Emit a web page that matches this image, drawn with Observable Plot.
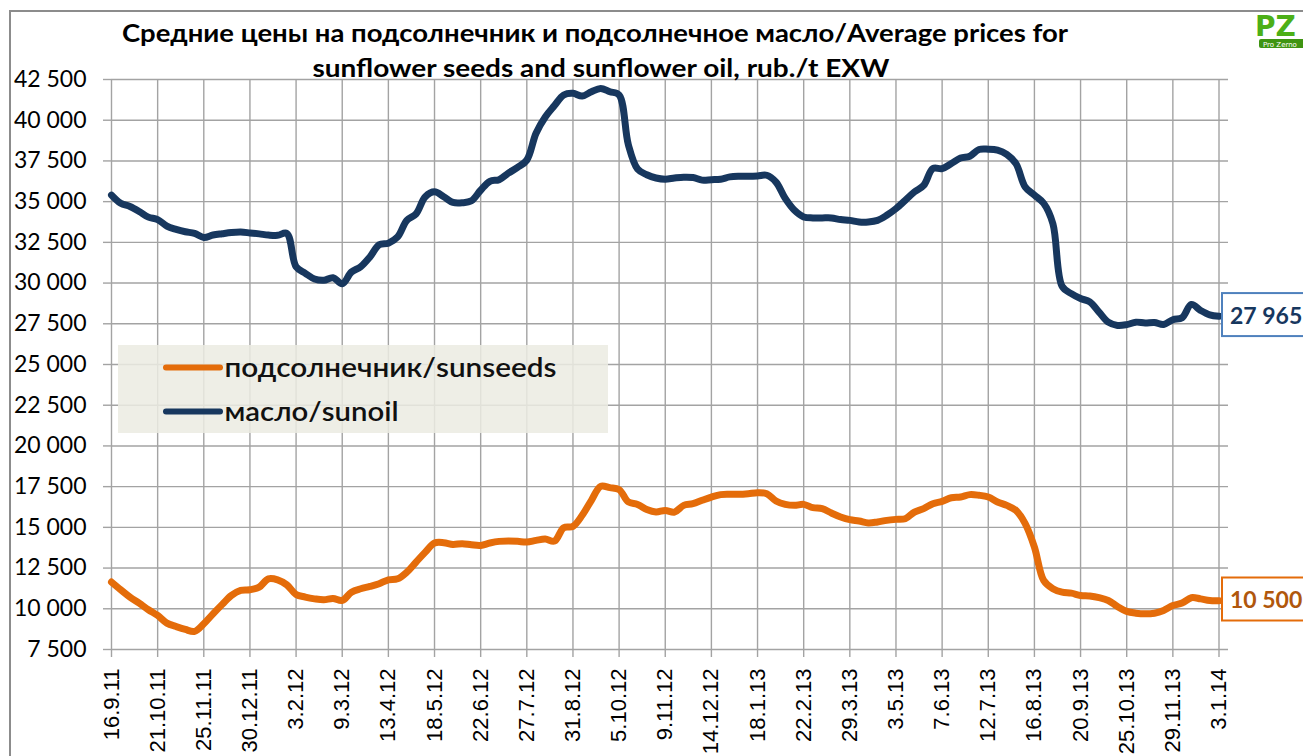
<!DOCTYPE html>
<html><head><meta charset="utf-8">
<script src="https://cdn.jsdelivr.net/npm/d3@7"></script>
<script src="https://cdn.jsdelivr.net/npm/@observablehq/plot@0.6"></script>
<style>
html,body{margin:0;padding:0;background:#fff;overflow:hidden;}
#wrap{position:relative;width:1303px;height:756px;overflow:hidden;background:#fff;}
#frame{position:absolute;left:9px;top:10px;width:1400px;height:800px;border-left:2px solid #8c8c8c;border-top:2px solid #8c8c8c;pointer-events:none;}
#overlay{position:absolute;left:0;top:0;pointer-events:none;}
</style></head><body><div id="wrap"><div id="frame"></div></div>
<script>
// ---- data ----
const titleLines = [
  "Средние цены на подсолнечник и подсолнечное масло/Average prices for",
  "sunflower seeds and sunflower oil, rub./t EXW"
];
const seriesNames = ["подсолнечник/sunseeds", "масло/sunoil"];
const seriesColors = ["#E46C0A", "#17375E"];
const labelColors = ["#B0570C", "#17375E"];
const labelBorders = ["#E46C0A", "#4F81BD"];

const xTickLabels = ["16.9.11","21.10.11","25.11.11","30.12.11","3.2.12","9.3.12","13.4.12","18.5.12",
  "22.6.12","27.7.12","31.8.12","5.10.12","9.11.12","14.12.12","18.1.13","22.2.13","29.3.13","3.5.13",
  "7.6.13","12.7.13","16.8.13","20.9.13","25.10.13","29.11.13","3.1.14"];

const yTicks = [7500,10000,12500,15000,17500,20000,22500,25000,27500,30000,32500,35000,37500,40000,42500];

// weekly prices, rub./t EXW
const seedValues = [
  11640,11170,10720,10350,9940, 9590,9120,8910,8730,8610,
  9080,9690,10270,10820,11130, 11170,11330,11840,11780,11470,
  10880,10720,10610,10550,10630, 10510,11020,11230,11370,11540,
  11780,11840,12250,12870,13480, 14040,14060,13950,14000,13930,
  13890,14040,14140,14160,14140, 14100,14200,14280,14160,14980,
  15060,15740,16660,17520,17440, 17320,16560,16410,16090,15940,
  16040,15940,16350,16450,16660, 16860,17010,17030,17030,17070,
  17130,17070,16620,16410,16350, 16410,16210,16150,15880,15640,
  15470,15390,15270,15330,15430, 15490,15530,15940,16150,16450,
  16600,16820,16860,17010,16970, 16860,16560,16350,16040,15230,
  13790,11740,11230,11020,10960, 10820,10780,10680,10510,10140,
  9840,9730,9690,9730,9900, 10200,10350,10680,10610,10510,
  10500
];
const oilValues = [
  35400,34900,34700,34400,34050, 33900,33500,33300,33150,33050,
  32800,32950,33030,33100,33130, 33080,33020,32950,32930,33050,
  31000,30600,30250,30170,30330, 29960,30680,31000,31600,32350,
  32450,32830,33850,34250,35300, 35600,35300,34950,34930,35050,
  35700,36250,36350,36750,37100, 37550,39200,40200,40900,41550,
  41650,41480,41750,41950,41750, 41550,38500,37000,36650,36450,
  36380,36450,36500,36480,36320, 36350,36380,36520,36560,36560,
  36580,36620,36200,35200,34470, 34060,34000,34000,34000,33900,
  33850,33750,33750,33850,34160, 34570,35080,35600,36000,37030,
  37030,37340,37680,37790,38200, 38220,38160,37900,37330,35900,
  35400,34900,33650,29800,29350, 29050,28850,28220,27600,27400,
  27450,27600,27550,27580,27460, 27750,27870,28690,28320,28050,
  27965
];

// ---- build table ----
const parseLabel = s => { const [d, m, y] = s.split(".").map(Number); return new Date(Date.UTC(2000 + y, m - 1, d)); };
const tickDates = xTickLabels.map(parseLabel);
const labelByTime = new Map(tickDates.map((d, i) => [+d, xTickLabels[i]]));
const start = tickDates[0];
const dates = oilValues.map((_, i) => d3.utcDay.offset(start, 7 * i));
const rows = [
  ...seedValues.map((v, i) => ({date: dates[i], value: v, series: seriesNames[0]})),
  ...oilValues.map((v, i) => ({date: dates[i], value: v, series: seriesNames[1]}))
];
const lastRows = [
  {date: dates[dates.length - 1], value: seedValues[seedValues.length - 1], series: seriesNames[0]},
  {date: dates[dates.length - 1], value: oilValues[oilValues.length - 1], series: seriesNames[1]}
];
const fmt = v => d3.format(",")(v).replace(/,/g, " ");
const gridColor = "#a3a3a3";

const chart = Plot.plot({
  width: 1303, height: 756,
  marginLeft: 111, marginRight: 75, marginTop: 79, marginBottom: 107,
  insetRight: 9.5,
  style: {background: "#fff", fontFamily: "Lato, sans-serif", overflow: "hidden"},
  x: {type: "utc", domain: [start, dates[dates.length - 1]]},
  y: {domain: [7500, 42500]},
  color: {domain: seriesNames, range: seriesColors},
  marks: [
    Plot.gridY(yTicks, {stroke: gridColor, strokeOpacity: 1, strokeWidth: 1.4}),
    Plot.gridX(tickDates, {stroke: gridColor, strokeOpacity: 1, strokeWidth: 1.4}),
    Plot.axisY(yTicks, {label: null, tickSize: 8, tickPadding: 17, tickFormat: fmt, fontSize: 23,
      fontFamily: "Lato, sans-serif", stroke: gridColor, strokeWidth: 1.4, fill: "#000"}),
    Plot.axisX(tickDates, {label: null, tickSize: 8, tickPadding: 11, tickRotate: -90, tickFormat: d => labelByTime.get(+d),
      fontSize: 22, fontFamily: "Liberation Sans, Arial, sans-serif", stroke: gridColor, strokeWidth: 1.4, fill: "#000"}),
    Plot.line(rows, {x: "date", y: "value", z: "series", stroke: "series", strokeWidth: 7,
      curve: "catmull-rom", strokeLinecap: "round", strokeLinejoin: "round"}),
    Plot.text(lastRows.filter(d => d.series === seriesNames[0]), {x: "date", y: "value", text: d => fmt(d.value),
      dx: 11, textAnchor: "start", fill: labelColors[0], fontWeight: "bold", fontSize: 23}),
    Plot.text(lastRows.filter(d => d.series === seriesNames[1]), {x: "date", y: "value", text: d => fmt(d.value),
      dx: 11, textAnchor: "start", fill: labelColors[1], fontWeight: "bold", fontSize: 23})
  ]
});
const wrap = document.getElementById("wrap");
wrap.insertBefore(chart, wrap.firstChild);

// boxes behind end labels (found by their text)
const svgRect = chart.getBoundingClientRect();
lastRows.forEach((row, k) => {
  const label = fmt(row.value);
  Array.from(chart.querySelectorAll("text")).filter(t => t.textContent === label).forEach(t => {
    const r = t.getBoundingClientRect();
    const cy = r.top - svgRect.top + r.height / 2;
    const rect = document.createElementNS("http://www.w3.org/2000/svg", "rect");
    rect.setAttribute("x", r.left - svgRect.left - 8);
    rect.setAttribute("y", cy - 21.5);
    rect.setAttribute("width", r.width + 20);
    rect.setAttribute("height", 43);
    rect.setAttribute("fill", "#fff");
    rect.setAttribute("stroke", labelBorders[k]);
    rect.setAttribute("stroke-width", 2);
    const g = t.closest("g") || chart;
    g.parentNode.insertBefore(rect, g);
  });
});

// overlay: title, legend, logo
const ov = d3.select("#wrap").append("svg").attr("id", "overlay").attr("width", 1303).attr("height", 756);
const titleX = [595, 601], titleY = [42, 77], titleW = [946, 577];
titleLines.forEach((t, i) => ov.append("text")
  .attr("x", titleX[i]).attr("y", titleY[i]).attr("text-anchor", "middle")
  .attr("font-family", "Lato, sans-serif").attr("font-weight", "bold").attr("font-size", 24)
  .attr("textLength", titleW[i]).attr("lengthAdjust", "spacingAndGlyphs").attr("fill", "#000").text(t));

const lg = ov.append("g");
lg.append("rect").attr("x", 118).attr("y", 345).attr("width", 490).attr("height", 88)
  .attr("fill", "#ebebe2").attr("fill-opacity", 0.86);
const lgY = [367.5, 411.5], lgW = [332, 174];
seriesNames.forEach((n, i) => {
  lg.append("line").attr("x1", 166).attr("x2", 220).attr("y1", lgY[i]).attr("y2", lgY[i])
    .attr("stroke", seriesColors[i]).attr("stroke-width", 6).attr("stroke-linecap", "round");
  lg.append("text").attr("x", 224.5).attr("y", lgY[i] + 9).attr("font-family", "Lato, sans-serif")
    .attr("font-weight", 600).attr("font-size", 27).attr("fill", "#111")
    .attr("textLength", lgW[i]).attr("lengthAdjust", "spacingAndGlyphs").text(n);
});

const logo = ov.append("g");
logo.append("text").attr("x", 1255).attr("y", 36).attr("font-family", "DejaVu Sans, sans-serif")
  .attr("font-weight", "bold").attr("font-size", 28).attr("fill", "#4caf17").text("PZ");
logo.append("rect").attr("x", 1259).attr("y", 39).attr("width", 50).attr("height", 9).attr("rx", 2).attr("fill", "#3f9412");
logo.append("text").attr("x", 1263).attr("y", 46.5).attr("font-family", "DejaVu Sans, sans-serif")
  .attr("font-size", 7).attr("fill", "#fff").text("Pro Zerno");
</script></body></html>
